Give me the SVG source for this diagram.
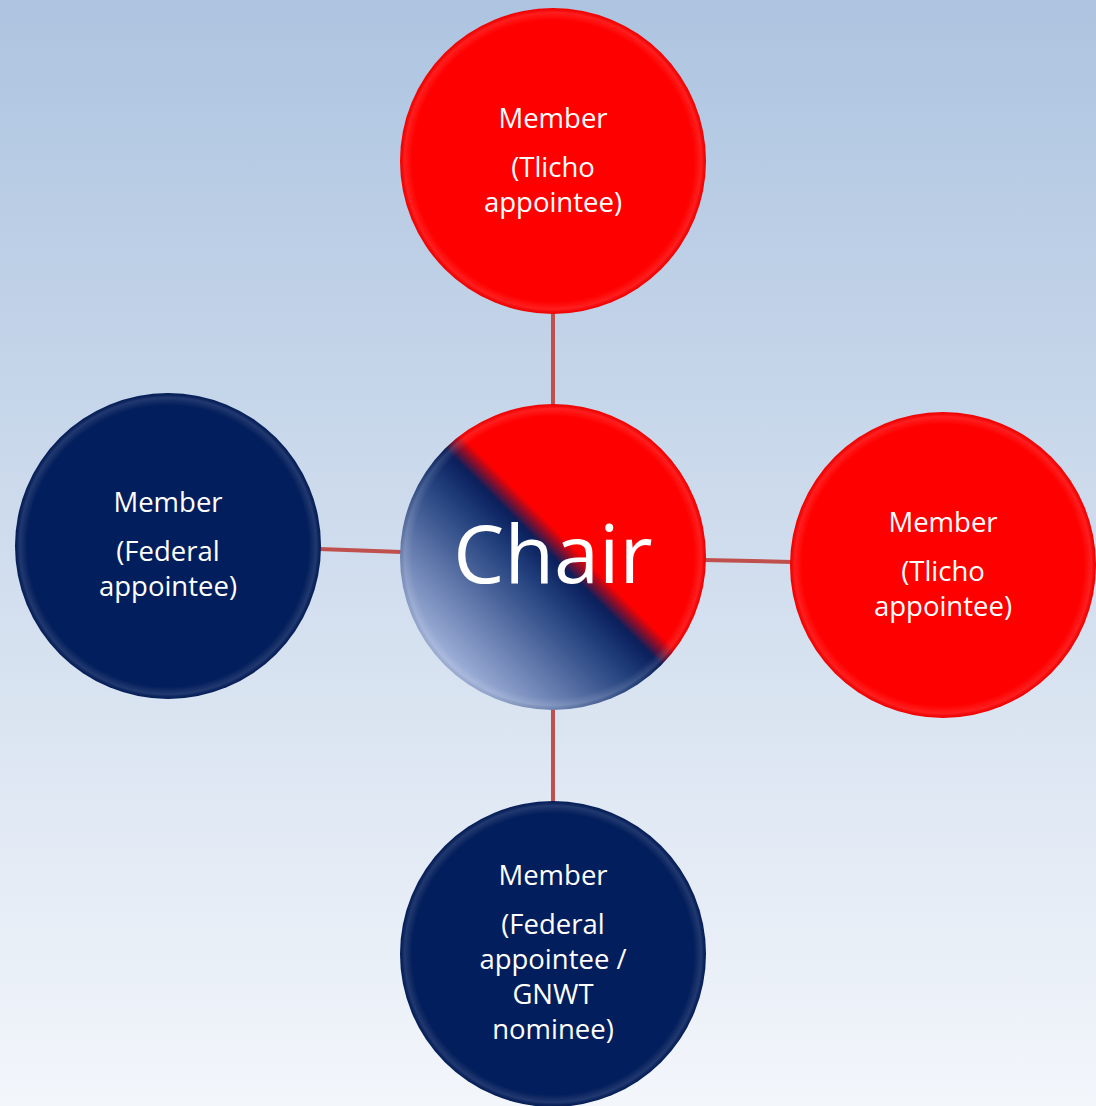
<svg xmlns="http://www.w3.org/2000/svg" width="1096" height="1106" viewBox="0 0 1096 1106">
<defs>
<linearGradient id="bg" x1="0" y1="0" x2="0" y2="1">
<stop offset="0" stop-color="#adc4e0"/>
<stop offset="1" stop-color="#f3f6fb"/>
</linearGradient>
<linearGradient id="chairG" x1="0.85" y1="0.15" x2="0.15" y2="0.85">
<stop offset="0" stop-color="#ff0000"/>
<stop offset="0.43" stop-color="#ff0000"/>
<stop offset="0.5" stop-color="#0a1f5c"/>
<stop offset="0.6" stop-color="#213f7c"/>
<stop offset="1" stop-color="#a3b4dc"/>
</linearGradient>
<radialGradient id="bevel" cx="0.5" cy="0.5" r="0.5">
<stop offset="0.92" stop-color="#ffffff" stop-opacity="0"/>
<stop offset="0.97" stop-color="#ffffff" stop-opacity="0.12"/>
<stop offset="1" stop-color="#000000" stop-opacity="0.06"/>
</radialGradient>
</defs>
<style>
.red{fill:#ff0000}
.navy{fill:#031e5c}
.bev{fill:url(#bevel)}
.lbl{font-family:"Open Sans","Liberation Sans",sans-serif;font-size:27.5px;fill:#ffffff;text-anchor:middle}
.conn{stroke:#c0504d;stroke-width:4;fill:none}
</style>
<rect width="1096" height="1106" fill="url(#bg)"/>
<g id="connectors">
<line class="conn" x1="553" y1="312" x2="553" y2="406"/>
<line class="conn" x1="319" y1="549" x2="402" y2="552"/>
<line class="conn" x1="704" y1="560" x2="792" y2="562"/>
<line class="conn" x1="553" y1="708" x2="553" y2="803"/>
</g>
<g id="top">
<circle class="red" cx="553" cy="161" r="153"/>
<circle class="bev" cx="553" cy="161" r="153"/>
<text class="lbl" x="553" y="128">Member</text>
<text class="lbl" x="553" y="177">(Tlicho</text>
<text class="lbl" x="553" y="212">appointee)</text>
</g>
<g id="left">
<circle class="navy" cx="168" cy="546" r="153"/>
<circle class="bev" cx="168" cy="546" r="153"/>
<text class="lbl" x="168" y="512">Member</text>
<text class="lbl" x="168" y="561">(Federal</text>
<text class="lbl" x="168" y="596">appointee)</text>
</g>
<g id="right">
<circle class="red" cx="943" cy="565" r="153"/>
<circle class="bev" cx="943" cy="565" r="153"/>
<text class="lbl" x="943" y="532">Member</text>
<text class="lbl" x="943" y="581">(Tlicho</text>
<text class="lbl" x="943" y="616">appointee)</text>
</g>
<g id="bottom">
<circle class="navy" cx="553" cy="954" r="153"/>
<circle class="bev" cx="553" cy="954" r="153"/>
<text class="lbl" x="553" y="885">Member</text>
<text class="lbl" x="553" y="934">(Federal</text>
<text class="lbl" x="553" y="969">appointee /</text>
<text class="lbl" x="553" y="1004">GNWT</text>
<text class="lbl" x="553" y="1039">nominee)</text>
</g>
<g id="chair">
<circle cx="553" cy="557" r="153" fill="url(#chairG)"/>
<circle class="bev" cx="553" cy="557" r="153"/>
<text x="553" y="583" font-family="Open Sans, Liberation Sans, sans-serif" font-size="81" fill="#ffffff" text-anchor="middle">Chair</text>
</g>
</svg>
